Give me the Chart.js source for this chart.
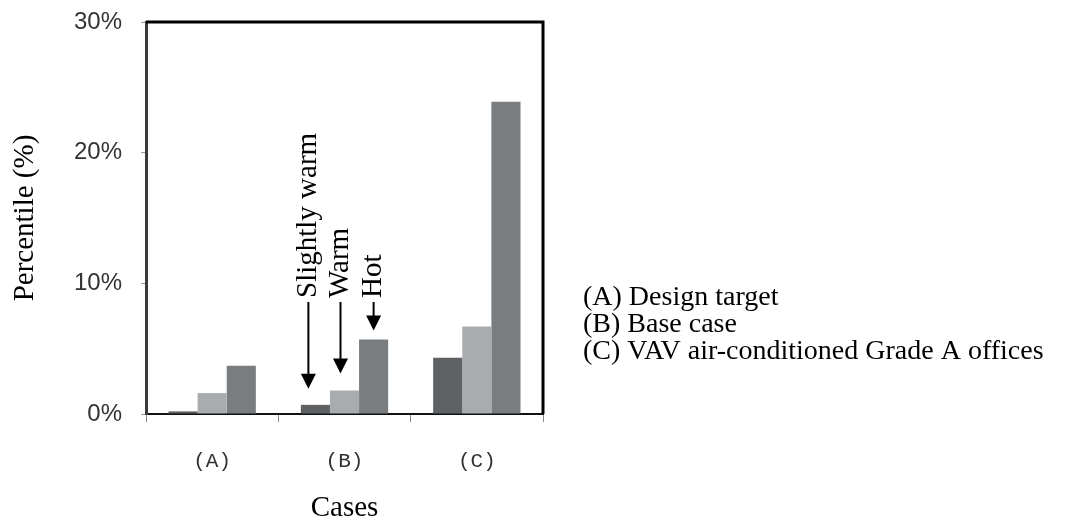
<!DOCTYPE html>
<html>
<head>
<meta charset="utf-8">
<script src="https://cdn.jsdelivr.net/npm/chart.js@4/dist/chart.umd.min.js"></script>
<style>
  body { margin: 0; background: #fff; }
  #wrap { width: 1065px; height: 525px; }
</style>
</head>
<body>
<div id="wrap"><canvas id="myChart" width="1065" height="525"></canvas></div>
<script>
var categories = ['(A)', '(B)', '(C)'];
var slightlyWarm = [0.2, 0.7, 4.3];
var warm = [1.6, 1.8, 6.7];
var hot = [3.7, 5.7, 23.9];
var yTicks = [0, 10, 20, 30];
var seriesNames = ['Slightly warm', 'Warm', 'Hot'];
var caseNotes = ['(A) Design target', '(B) Base case', '(C) VAV air-conditioned Grade A offices'];

var serif = '"Liberation Serif", "Times New Roman", serif';

// arrows + rotated labels over case (B), and the case notes on the right
var notesPlugin = {
  id: 'notes',
  afterDraw: chart => {
    const ctx = chart.ctx;
    const area = chart.chartArea;
    ctx.save();

    // top and right frame
    ctx.strokeStyle = '#000';
    ctx.lineWidth = 3;
    ctx.beginPath();
    ctx.moveTo(area.left, area.top);
    ctx.lineTo(area.right, area.top);
    ctx.lineTo(area.right, area.bottom);
    ctx.stroke();

    const shift = [-7, -4, 0];
    const gap = [16, 17, 9];
    const shaftTop = 302;
    seriesNames.forEach((name, i) => {
      const bar = chart.getDatasetMeta(i).data[1];
      const x = bar.x + shift[i];
      const tip = bar.y - gap[i];
      ctx.strokeStyle = '#000';
      ctx.fillStyle = '#000';
      ctx.lineWidth = 2;
      ctx.beginPath();
      ctx.moveTo(x, shaftTop);
      ctx.lineTo(x, tip - 12);
      ctx.stroke();
      ctx.beginPath();
      ctx.moveTo(x - 7.5, tip - 15);
      ctx.lineTo(x + 7.5, tip - 15);
      ctx.lineTo(x, tip);
      ctx.closePath();
      ctx.fill();

      ctx.save();
      ctx.translate(x, shaftTop - 4);
      ctx.rotate(-Math.PI / 2);
      ctx.font = '29px ' + serif;
      ctx.textAlign = 'left';
      ctx.textBaseline = 'middle';
      ctx.fillText(name, 0, 0);
      ctx.restore();
    });

    ctx.font = '28px ' + serif;
    ctx.textAlign = 'left';
    ctx.textBaseline = 'middle';
    ctx.fillStyle = '#000';
    caseNotes.forEach((t, i) => {
      ctx.fillText(t, 583, 298 + i * 27);
    });
    ctx.restore();
  }
};

var chart = new Chart(document.getElementById('myChart'), {
  type: 'bar',
  data: {
    labels: categories,
    datasets: [
      { label: seriesNames[0], data: slightlyWarm, backgroundColor: '#5e6264' },
      { label: seriesNames[1], data: warm, backgroundColor: '#a9acaf' },
      { label: seriesNames[2], data: hot, backgroundColor: '#7a7d80' }
    ]
  },
  options: {
    responsive: false,
    animation: false,
    layout: { padding: { left: 0, right: 522, top: 22, bottom: 0 } },
    datasets: { bar: { barPercentage: 1, categoryPercentage: 0.66 } },
    plugins: { legend: { display: false }, tooltip: { enabled: false } },
    scales: {
      x: {
        afterFit: s => { s.height = 111; s.paddingLeft = 0; s.paddingRight = 0; },
        grid: { offset: true, drawOnChartArea: false, drawTicks: true, tickLength: 8, color: '#888', lineWidth: 1 },
        border: { display: true, color: '#111', width: 2 },
        ticks: { padding: 27, color: '#333', font: { family: '"Liberation Mono", "Courier New", monospace', size: 21 } },
        title: { display: true, text: 'Cases', color: '#000', padding: { top: 0, bottom: 2 }, font: { family: serif, size: 29, lineHeight: 1 } }
      },
      y: {
        min: 0,
        max: 30,
        afterFit: s => { s.width = 146; s.paddingTop = 0; s.paddingBottom = 0; },
        afterBuildTicks: s => { s.ticks = yTicks.map(v => ({ value: v })); },
        grid: { drawOnChartArea: false, drawTicks: true, tickLength: 5, color: '#999' },
        border: { display: true, color: '#3a3a3a', width: 3 },
        ticks: {
          padding: 19,
          color: '#333',
          font: { family: '"Liberation Sans", Arial, sans-serif', size: 24 },
          callback: v => v + '%'
        },
        title: { display: true, text: 'Percentile (%)', color: '#000', padding: { top: 8, bottom: 0 }, font: { family: serif, size: 29 } }
      }
    }
  },
  plugins: [notesPlugin]
});
</script>
</body>
</html>
